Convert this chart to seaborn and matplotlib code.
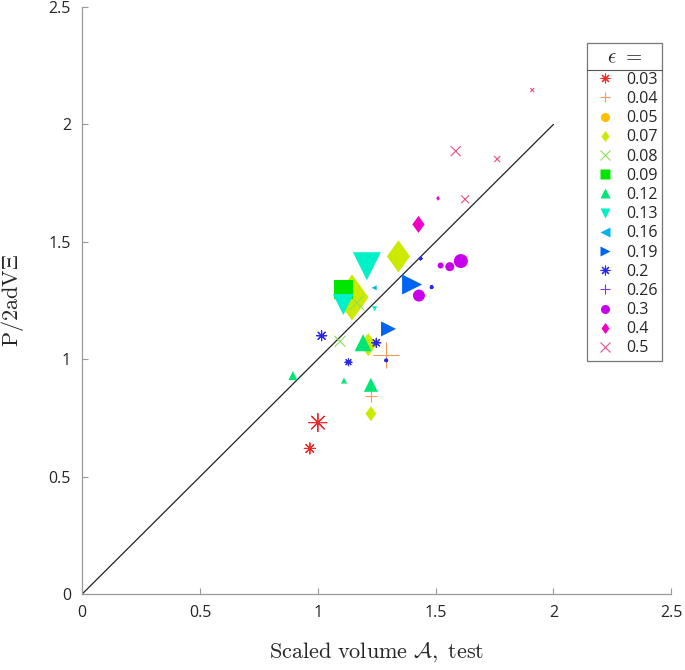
import numpy as np
import pandas as pd
import matplotlib
matplotlib.use('Agg')
import matplotlib.pyplot as plt
from matplotlib.lines import Line2D
from matplotlib.path import Path
import seaborn as sns

# epsilon levels shown in the legend
eps_levels = ['0.03', '0.04', '0.05', '0.07', '0.08', '0.09', '0.12', '0.13',
              '0.16', '0.19', '0.2', '0.26', '0.3', '0.4', '0.5']

# points: epsilon, scaled volume, P/2adV, marker size (px)
pt_eps = ['0.03', '0.03',
          '0.04', '0.04',
          '0.07', '0.07', '0.07', '0.07',
          '0.08', '0.08',
          '0.09',
          '0.12', '0.12', '0.12', '0.12',
          '0.13', '0.13', '0.13',
          '0.16',
          '0.19', '0.19',
          '0.2', '0.2', '0.2', '0.2', '0.2', '0.2',
          '0.3', '0.3', '0.3', '0.3',
          '0.4', '0.4',
          '0.5', '0.5', '0.5', '0.5']
pt_x = [1.00, 0.966,
        1.29, 1.225,
        1.342, 1.145, 1.214, 1.225,
        1.165, 1.094,
        1.111,
        1.192, 1.225, 1.111, 0.894,
        1.208, 1.108, 1.241,
        1.239,
        1.40, 1.30,
        1.016, 1.248, 1.13, 1.29, 1.483, 1.436,
        1.607, 1.56, 1.521, 1.429,
        1.427, 1.51,
        1.585, 1.761, 1.625, 1.91]
pt_y = [0.73, 0.62,
        1.02, 0.843,
        1.438, 1.263, 1.062, 0.768,
        1.24, 1.076,
        1.297,
        1.07, 0.891, 0.909, 0.93,
        1.396, 1.233, 1.215,
        1.304,
        1.318, 1.129,
        1.10, 1.07, 0.987, 0.995, 1.307, 1.429,
        1.418, 1.394, 1.399, 1.271,
        1.574, 1.685,
        1.886, 1.852, 1.681, 2.146]
pt_size = [18, 11,
           26, 12,
           32, 46, 23, 15,
           15, 11,
           19,
           17, 14, 6, 9,
           28, 21, 5,
           5,
           20, 15,
           10, 9, 7, 3, 3, 3,
           14, 9, 6, 12,
           17, 5,
           10, 6, 8, 4]

df = pd.DataFrame({'eps': pt_eps, 'x': pt_x, 'y': pt_y, 'size': pt_size})

# matlab-like tall diamond
diamond = Path([(0, 1), (0.72, 0), (0, -1), (-0.72, 0), (0, 1)],
               [Path.MOVETO, Path.LINETO, Path.LINETO, Path.LINETO, Path.CLOSEPOLY])

colors = {'0.03': '#EE2B2B', '0.04': '#F39A55', '0.05': '#FFBE00', '0.07': '#CCEA00',
          '0.08': '#8FE060', '0.09': '#00E600', '0.12': '#00E574', '0.13': '#00F0C8',
          '0.16': '#00B4F0', '0.19': '#0064F2', '0.2': '#2828E6', '0.26': '#8033F0',
          '0.3': '#C800EE', '0.4': '#F200C4', '0.5': '#E8508C'}
markers = {'0.03': (8, 2, 0), '0.04': '+', '0.05': 'o', '0.07': diamond, '0.08': 'x',
           '0.09': 's', '0.12': '^', '0.13': 'v', '0.16': '<', '0.19': '>',
           '0.2': (8, 2, 0), '0.26': '+', '0.3': 'o', '0.4': diamond, '0.5': 'x'}
line_markers = {'0.03', '0.04', '0.08', '0.2', '0.26', '0.5'}

sns.set_style('ticks')
plt.rcParams['font.family'] = ['Open Sans', 'DejaVu Sans']
plt.rcParams['mathtext.fontset'] = 'cm'

fig = plt.figure(figsize=(6.85, 6.7), dpi=100)
ax = fig.add_axes([0.12, 0.1134, 0.86, 0.8762])

# y = x reference line
ax.plot([0, 2], [0, 2], color='#222222', lw=0.9, zorder=1)

for e in eps_levels:
    sub = df[df['eps'] == e]
    if sub.empty:
        continue
    s = (sub['size'].to_numpy() * 0.72) ** 2
    if e in line_markers:
        sns.scatterplot(data=sub, x='x', y='y', ax=ax, marker=markers[e], color=colors[e],
                        s=s, linewidth=0.8, legend=False, zorder=3)
    else:
        sns.scatterplot(data=sub, x='x', y='y', ax=ax, marker=markers[e], color=colors[e],
                        edgecolor='none', linewidth=0, s=s, legend=False, zorder=3)

ax.set_xlim(0, 2.5)
ax.set_ylim(0, 2.5)
ax.set_xticks(np.arange(0, 2.51, 0.5))
ax.set_yticks(np.arange(0, 2.51, 0.5))
ax.set_xticklabels(['0', '0.5', '1', '1.5', '2', '2.5'])
ax.set_yticklabels(['0', '0.5', '1', '1.5', '2', '2.5'])
ax.tick_params(direction='in', length=4, width=0.8, color='#999999', labelsize=11.5, pad=8)
for sp in ['top', 'right']:
    ax.spines[sp].set_visible(False)
for sp in ['left', 'bottom']:
    ax.spines[sp].set_color('#999999')
    ax.spines[sp].set_linewidth(0.9)

ax.set_xlabel(r'$\mathrm{Scaled\ volume\ }\mathcal{A}\mathrm{,\ test}$', fontsize=16, labelpad=14)
ax.set_ylabel(r'$\mathrm{P/2adV\Xi}$', fontsize=16, labelpad=16)

handles = []
for e in eps_levels:
    if e in line_markers:
        h = Line2D([], [], ls='none', marker=markers[e], color=colors[e], markersize=7, mew=0.8)
    else:
        ms = 8 if markers[e] is diamond else 6.5
        h = Line2D([], [], ls='none', marker=markers[e], color=colors[e], markersize=ms, mec='none')
    handles.append(h)

leg = ax.legend(handles, eps_levels, title=r'$\epsilon\ =$', loc='upper left',
                bbox_to_anchor=(0.857, 0.939), borderaxespad=0, fontsize=11.5,
                title_fontsize=15, frameon=True, fancybox=False, edgecolor='#555555',
                labelspacing=0.2, handletextpad=0.55, borderpad=0.3, handlelength=1.6)
leg.get_frame().set_linewidth(0.9)

# separator under the legend title
fig.canvas.draw()
fb = leg.get_frame().get_window_extent()
tb = leg.get_title().get_window_extent()
first = leg.get_texts()[0].get_window_extent()
inv = fig.transFigure.inverted()
y_sep = inv.transform((0, (tb.y0 + first.y1) / 2))[1]
x0 = inv.transform((fb.x0, 0))[0]
x1 = inv.transform((fb.x1, 0))[0]
fig.add_artist(Line2D([x0, x1], [y_sep, y_sep], color='#555555', lw=0.8))

fig.savefig('out.png', dpi=100)
